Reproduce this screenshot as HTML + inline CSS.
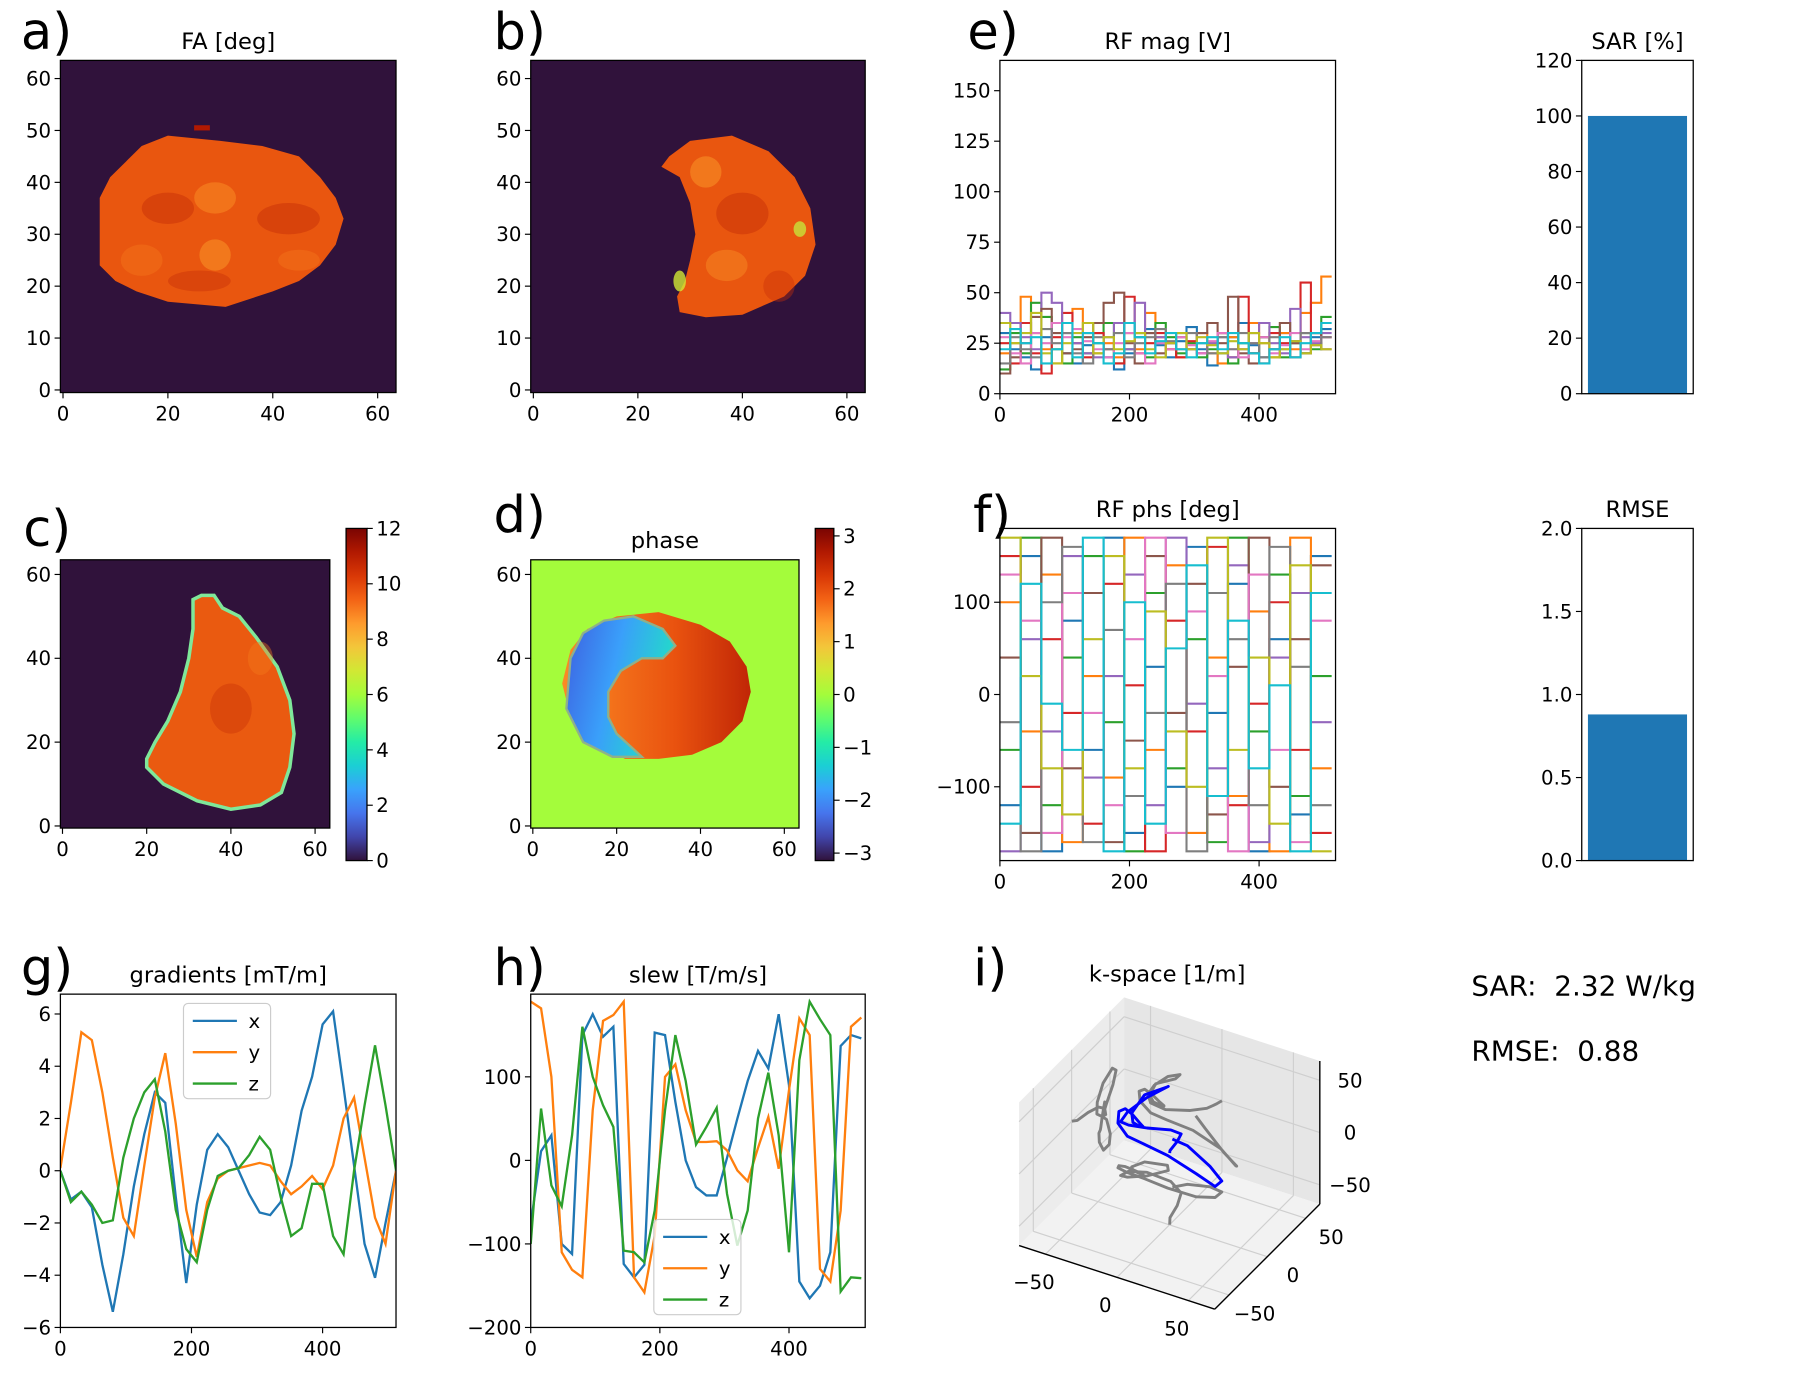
<!DOCTYPE html>
<html><head><meta charset="utf-8"><style>
html,body{margin:0;padding:0;background:#fff;}
svg{display:block;font-family:"DejaVu Sans","Liberation Sans",sans-serif;}
</style></head><body>
<svg id="fig" xmlns="http://www.w3.org/2000/svg" width="1819" height="1376" viewBox="0 0 1566.3 1184.8" preserveAspectRatio="none">
<defs>
<linearGradient id="turbo" x1="0" y1="1" x2="0" y2="0">
<stop offset="0" stop-color="#30123b"/><stop offset="0.071" stop-color="#4145ab"/><stop offset="0.143" stop-color="#4675ed"/><stop offset="0.214" stop-color="#39a2fc"/><stop offset="0.286" stop-color="#1bcfd4"/><stop offset="0.357" stop-color="#24eca6"/><stop offset="0.429" stop-color="#61fc6c"/><stop offset="0.5" stop-color="#a4fc3b"/><stop offset="0.571" stop-color="#d1e834"/><stop offset="0.643" stop-color="#f3c63a"/><stop offset="0.714" stop-color="#fe9b2d"/><stop offset="0.786" stop-color="#f36315"/><stop offset="0.857" stop-color="#d93806"/><stop offset="0.929" stop-color="#b11901"/><stop offset="1" stop-color="#7a0402"/>
</linearGradient>
<linearGradient id="phR" x1="0" y1="0" x2="1" y2="0"><stop offset="0" stop-color="#fb8a24"/><stop offset="0.6" stop-color="#e9520f"/><stop offset="1" stop-color="#c02606"/></linearGradient>
<linearGradient id="phB" x1="0" y1="0" x2="1" y2="0.3"><stop offset="0" stop-color="#3d5fe0"/><stop offset="0.5" stop-color="#3a9ffa"/><stop offset="1" stop-color="#22dcc8"/></linearGradient>
</defs>
</svg>
<script>
// ---------- data ----------
const gradT = [0,16,32,48,64,80,96,112,128,144,160,176,192,208,224,240,256,272,288,304,320,336,352,368,384,400,416,432,448,464,480,496,512];
const gradX = [0,-1.1,-0.8,-1.4,-3.6,-5.4,-3.2,-0.6,1.4,3.0,2.6,-1.0,-4.3,-1.3,0.8,1.4,0.9,0.0,-0.9,-1.6,-1.7,-1.2,0.2,2.3,3.6,5.6,6.1,3.2,0.2,-2.8,-4.1,-2.0,0];
const gradY = [0.1,2.6,5.3,5.0,3.0,0.5,-1.8,-2.5,0.2,2.8,4.5,1.8,-1.5,-3.3,-1.2,-0.3,0.0,0.1,0.2,0.3,0.2,-0.4,-0.9,-0.6,-0.2,-0.7,0.2,2.0,2.8,0.5,-1.8,-2.8,0];
const gradZ = [0,-1.2,-0.8,-1.3,-2.0,-1.9,0.5,2.0,3.0,3.5,1.5,-1.5,-3.0,-3.5,-1.5,-0.2,0,0.1,0.6,1.3,0.8,-1.0,-2.5,-2.2,-0.5,-0.5,-2.5,-3.2,0,2.5,4.8,2.5,0];
const slewX = [-76,11,30,-100,-112,150,175,148,160,-124,-140,-125,153,150,70,0,-32,-42,-42,3,50,95,131,110,175,90,-145,-165,-150,-110,137,150,146];
const slewY = [190,182,100,-110,-131,-140,60,167,174,190,-140,-158,-90,100,115,60,22,22,23,12,-12,-25,15,52,-10,84,170,150,-130,-145,-60,160,171];
const slewZ = [-100,62,-30,-55,30,160,100,66,40,-108,-110,-122,-60,60,150,95,19,40,63,-40,-102,-60,50,105,30,-110,120,190,169,150,-157,-140,-141];
const rfMag = [
 [30,22,18,12,28,35,20,15,24,30,18,12,20,28,32,24,18,26,33,22,14,20,28,35,24,18,22,30,26,20,28,32],
 [20,25,48,30,22,15,35,42,30,20,25,18,30,22,40,28,22,18,25,30,20,15,28,22,35,25,18,30,22,40,45,58],
 [12,30,20,45,38,22,15,28,20,25,35,15,22,30,18,35,28,20,25,18,22,30,15,25,20,28,33,18,25,30,22,38],
 [25,15,35,20,10,28,40,25,18,30,22,15,48,20,25,30,22,18,26,20,25,30,18,48,20,15,30,25,18,55,30,28],
 [40,35,28,22,50,45,30,25,20,18,28,35,22,45,30,28,25,30,22,20,25,28,18,22,30,35,25,20,42,28,25,30],
 [10,18,25,38,42,30,20,22,28,35,45,50,25,15,30,20,25,28,22,30,35,25,48,20,15,28,22,35,25,20,30,22],
 [28,20,15,30,25,35,28,32,26,22,18,25,30,20,15,25,22,28,24,20,26,30,22,18,25,28,20,24,30,22,26,28],
 [15,28,22,18,32,25,30,20,15,28,22,30,18,25,28,32,26,22,30,25,20,28,22,30,25,18,28,22,26,30,24,28],
 [35,25,30,40,20,15,25,30,35,20,28,22,26,30,22,18,25,30,22,28,24,20,26,22,30,25,18,22,26,20,24,22],
 [22,32,25,28,15,22,35,18,30,25,15,20,35,28,20,26,30,22,18,25,28,22,30,25,20,15,22,28,18,25,30,35]];
const rfPhs = [
 [-120,150,-170,80,-60,170,-150,30,-100,160,-20,120,-170,60,-130,150],
 [100,-40,130,-160,20,-90,170,-60,140,-150,40,-110,90,-170,170,-80],
 [-60,170,-120,40,150,-30,-170,110,-80,60,-160,170,-40,130,-110,20],
 [150,-100,60,-20,-140,120,10,-170,80,-40,160,-120,-10,100,-60,-150],
 [-170,60,-40,150,-90,20,130,-120,170,-10,-80,140,-160,40,110,-30],
 [40,-150,170,-80,110,-160,-50,150,-20,120,-130,30,170,-100,60,140],
 [130,80,-150,110,-20,-120,60,170,-150,90,20,-170,130,-60,-160,80],
 [-30,-170,100,160,-160,70,-110,-20,120,-170,110,60,-120,160,30,-120],
 [170,20,-80,-130,60,150,-80,90,-40,-100,170,-60,40,-140,140,-170],
 [-140,120,-10,-60,170,-170,100,-140,50,140,-110,80,-80,10,-170,110]];
const sarValue = [100];
const rmseValue = [0.88];
const faMask = [[7,24],[7,37],[9,41],[12,44],[15,47],[20,49],[30,48],[38,47],[45,45],[49,41],[52,37],[53.5,33],[52,28],[49,24],[45,21],[40,19],[31,16],[20,17],[14,19],[10,21]];
const bMask = [[26,45],[30,48],[38,49],[45,46],[50,41],[53,35],[54,28],[52,22],[48,18],[40,14.5],[33,14],[28,15],[27.5,18],[29,21],[30,25],[31,30],[30,36],[28,41],[24.5,43]];
const cMask = [[31,54],[33,55],[36,55],[38,52],[42,50],[46,45],[51,38],[54,30],[55,22],[54,14],[52,8],[47,5],[40,4],[32,6],[24,10],[20,14],[20,16],[22,20],[25,25],[28,32],[30,40],[31,47]];
const dMask = [[7,34],[9,42],[13,47],[20,50],[30,51],[40,48],[47,44],[51,38],[52,32],[50,25],[45,20],[38,17],[30,16],[22,16],[14,20],[9,26]];
const dSwirl = [[9,40],[12,46],[17,49],[24,50],[31,47],[34,43],[31,40],[26,40],[21,37],[18,32],[18,26],[20,22],[26,16.5],[19,16.5],[12,20],[8,28]];

const tab = ['#1f77b4','#ff7f0e','#2ca02c','#d62728','#9467bd','#8c564b','#e377c2','#7f7f7f','#bcbd22','#17becf'];
const NS='http://www.w3.org/2000/svg';
const svg=document.getElementById('fig');
function mk(parent,tag,attrs,name,inter){
  const el=document.createElementNS(NS,tag);
  for(const k in attrs) el.setAttribute(k,attrs[k]);
  
  
  parent.appendChild(el); return el;
}
function txt(parent,x,y,s,size,anchor,name){
  const t=mk(parent,'text',{x:x,y:y,'font-size':size,'text-anchor':anchor||'middle',fill:'#000'},name);
  t.textContent=s; return t;
}
let clipId=0;
function axes(c){
  const g=mk(svg,'g',{},c.name);
  const sx=v=>c.x0+(v-c.xlim[0])/(c.xlim[1]-c.xlim[0])*(c.x1-c.x0);
  const sy=v=>c.y0-(v-c.ylim[0])/(c.ylim[1]-c.ylim[0])*(c.y0-c.y1);
  const id='clip'+(clipId++);
  const cp=mk(svg.querySelector('defs'),'clipPath',{id:id},c.name+'-clip');
  mk(cp,'rect',{x:c.x0,y:c.y1,width:c.x1-c.x0,height:c.y0-c.y1},'clip-rect');
  const plot=mk(g,'g',{'clip-path':'url(#'+id+')'},c.name+'-plot-area');
  (c.xticks||[]).forEach((v,i)=>{const x=sx(v);
    mk(g,'line',{x1:x,x2:x,y1:c.y0,y2:c.y0+5,stroke:'#000','stroke-width':1},'x-tick');
    txt(g,x,c.y0+24,c.xlab?c.xlab[i]:String(v).replace('-','\u2212'),17,'middle','x-tick-label');});
  (c.yticks||[]).forEach((v,i)=>{const y=sy(v);
    mk(g,'line',{x1:c.x0-5,x2:c.x0,y1:y,y2:y,stroke:'#000','stroke-width':1},'y-tick');
    txt(g,c.x0-8,y+6,c.ylab?c.ylab[i]:String(v).replace('-','\u2212'),17,'end','y-tick-label');});
  if(c.title) txt(g,(c.x0+c.x1)/2,c.y1-10,c.title,19.5,'middle','axes-title');
  return {g,plot,sx,sy,frame:()=>mk(g,'rect',{x:c.x0,y:c.y1,width:c.x1-c.x0,height:c.y0-c.y1,fill:'none',stroke:'#000','stroke-width':1.1},'axes-frame')};
}
function poly(ax,pts,attrs,name){
  return mk(ax.plot,'polygon',Object.assign({points:pts.map(p=>ax.sx(p[0])+','+ax.sy(p[1])).join(' ')},attrs),name);
}
function letter(x,y,s){txt(svg,x,y,s,44,'start','panel-label-'+s[0]);}
const imgT=[0,20,40,60];

// a) FA
let A=axes({name:'fa-map-axes',x0:52,x1:341,y0:338,y1:52,xlim:[-0.5,63.5],ylim:[-0.5,63.5],xticks:imgT,yticks:[0,10,20,30,40,50,60],title:'FA [deg]'});
mk(A.plot,'rect',{x:52,y:52,width:289,height:286,fill:'#30123b'},'background');
poly(A,faMask,{fill:'#e9560f'},'fa-mask');
poly(A,[[25,50],[28,50],[28,51],[25,51]],{fill:'#b11901'},'fa-spot');
[[20,35,5,3,'#c83008',0.5],[43,33,6,3,'#c83008',0.5],[26,21,6,2,'#c83008',0.45],[29,37,4,3,'#fb8f26',0.5],[29,26,3,3,'#fb9a2a',0.5],[15,25,4,3,'#f47a1c',0.4],[45,25,4,2,'#f47a1c',0.4]].forEach(b=>{
  mk(A.plot,'ellipse',{cx:A.sx(b[0]),cy:A.sy(b[1]),rx:b[2]*4.5,ry:b[3]*4.5,fill:b[4],opacity:b[5]},'fa-texture');});
A.frame(); letter(18,42,'a)');

// b)
let B=axes({name:'fa-map-b-axes',x0:457,x1:745,y0:338,y1:52,xlim:[-0.5,63.5],ylim:[-0.5,63.5],xticks:imgT,yticks:[0,10,20,30,40,50,60]});
mk(B.plot,'rect',{x:457,y:52,width:288,height:286,fill:'#30123b'},'background');
poly(B,bMask,{fill:'#e9560f'},'fa-mask');
[[40,34,5,4,'#c83008',0.5],[37,24,4,3,'#f78a24',0.5],[47,20,3,3,'#c83008',0.4],[51,31,1.2,1.5,'#c7e43a',0.8],[28,21,1.2,2,'#d1e834',0.8],[33,42,3,3,'#fb9a2a',0.5]].forEach(b=>{
  mk(B.plot,'ellipse',{cx:B.sx(b[0]),cy:B.sy(b[1]),rx:b[2]*4.5,ry:b[3]*4.5,fill:b[4],opacity:b[5]},'fa-texture');});
B.frame(); letter(425,42,'b)');

// c)
let C=axes({name:'magnitude-map-axes',x0:52,x1:284,y0:713,y1:482,xlim:[-0.5,63.5],ylim:[-0.5,63.5],xticks:imgT,yticks:[0,20,40,60]});
mk(C.plot,'rect',{x:52,y:482,width:232,height:231,fill:'#30123b'},'background');
poly(C,cMask,{fill:'#ea5a10',stroke:'#7fe89a','stroke-width':3},'mag-mask');
[[40,28,5,6,'#c83008',0.4],[47,40,3,4,'#f47a1c',0.4]].forEach(b=>{
  mk(C.plot,'ellipse',{cx:C.sx(b[0]),cy:C.sy(b[1]),rx:b[2]*3.6,ry:b[3]*3.6,fill:b[4],opacity:b[5]},'mag-texture');});
C.frame(); letter(20,470,'c)');
let CB=axes({name:'colorbar-c',x0:298,x1:316,y0:741,y1:455,xlim:[0,1],ylim:[0,12]});
mk(CB.plot,'rect',{x:298,y:455,width:18,height:286,fill:'url(#turbo)'},'colorbar-gradient');
CB.frame();
[0,2,4,6,8,10,12].forEach(v=>{const y=CB.sy(v);mk(CB.g,'line',{x1:316,x2:321,y1:y,y2:y,stroke:'#000'},'cbar-tick');txt(CB.g,324,y+6,String(v),17,'start','cbar-tick-label');});

// d)
let D=axes({name:'phase-map-axes',x0:457,x1:688,y0:713,y1:482,xlim:[-0.5,63.5],ylim:[-0.5,63.5],xticks:imgT,yticks:[0,20,40,60],title:'phase'});
mk(D.plot,'rect',{x:457,y:482,width:231,height:231,fill:'#a4fc3b'},'background');
poly(D,dMask,{fill:'url(#phR)'},'phase-region');
poly(D,dSwirl,{fill:'url(#phB)',stroke:'#8fb08a','stroke-width':2},'phase-swirl');
D.frame(); letter(425,458,'d)');
let DB=axes({name:'colorbar-d',x0:702,x1:718,y0:741,y1:455,xlim:[0,1],ylim:[-Math.PI,Math.PI]});
mk(DB.plot,'rect',{x:702,y:455,width:16,height:286,fill:'url(#turbo)'},'colorbar-gradient');
DB.frame();
[-3,-2,-1,0,1,2,3].forEach(v=>{const y=DB.sy(v);mk(DB.g,'line',{x1:718,x2:723,y1:y,y2:y,stroke:'#000'},'cbar-tick');txt(DB.g,726,y+6,String(v).replace('-','\u2212'),17,'start','cbar-tick-label');});

// e) RF mag
function steps(ax,arr,color,name){
  const n=arr.length,w=512/n;let d='';
  arr.forEach((v,i)=>{d+=(i?'L':'M')+ax.sx(i*w)+','+ax.sy(v)+'L'+ax.sx((i+1)*w)+','+ax.sy(v);});
  mk(ax.plot,'path',{d:d,fill:'none',stroke:color,'stroke-width':1.8},name);
}
let E=axes({name:'rf-mag-axes',x0:861,x1:1150,y0:339,y1:52,xlim:[0,518],ylim:[0,165],xticks:[0,200,400],yticks:[0,25,50,75,100,125,150],title:'RF mag [V]'});
rfMag.forEach((s,i)=>steps(E,s,tab[i],'rf-mag-channel-'+i));
E.frame(); letter(833,42,'e)');

// SAR bar
let S=axes({name:'sar-bar-axes',x0:1362,x1:1458,y0:339,y1:52,xlim:[-0.45,0.45],ylim:[0,120],yticks:[0,20,40,60,80,100,120],title:'SAR [%]'});
sarValue.forEach(v=>mk(S.plot,'rect',{x:S.sx(-0.4),y:S.sy(v),width:S.sx(0.4)-S.sx(-0.4),height:S.sy(0)-S.sy(v),fill:'#1f77b4'},'sar-bar'));
S.frame();

// f) RF phase
let F=axes({name:'rf-phase-axes',x0:861,x1:1150,y0:741,y1:455,xlim:[0,518],ylim:[-180,180],xticks:[0,200,400],yticks:[-100,0,100],title:'RF phs [deg]'});
rfPhs.forEach((s,i)=>steps(F,s,tab[i],'rf-phase-channel-'+i));
F.frame(); letter(838,458,'f)');

// RMSE
let R=axes({name:'rmse-bar-axes',x0:1362,x1:1458,y0:741,y1:455,xlim:[-0.45,0.45],ylim:[0,2],yticks:[0,0.5,1,1.5,2],ylab:['0.0','0.5','1.0','1.5','2.0'],title:'RMSE'});
rmseValue.forEach(v=>mk(R.plot,'rect',{x:R.sx(-0.4),y:R.sy(v),width:R.sx(0.4)-R.sx(-0.4),height:R.sy(0)-R.sy(v),fill:'#1f77b4'},'rmse-bar'));
R.frame();

// g, h line plots
function line(ax,ts,vs,color,name){
  mk(ax.plot,'polyline',{points:ts.map((t,i)=>ax.sx(t)+','+ax.sy(vs[i])).join(' '),fill:'none',stroke:color,'stroke-width':2},name);
}
function legend(ax,x,y,name){
  const g=mk(ax.g,'g',{},name);
  mk(g,'rect',{x:x,y:y,width:75,height:82,rx:4,fill:'#fff',stroke:'#ccc','fill-opacity':0.8},'legend-box');
  ['x','y','z'].forEach((l,i)=>{const yy=y+15+i*27;
    mk(g,'line',{x1:x+8,x2:x+46,y1:yy,y2:yy,stroke:tab[i],'stroke-width':2},'legend-line-'+l);
    txt(g,x+56,yy+6,l,17,'start','legend-label-'+l);});
}
let G=axes({name:'gradients-axes',x0:52,x1:341,y0:1143,y1:856,xlim:[0,512],ylim:[-6,6.76],xticks:[0,200,400],yticks:[-6,-4,-2,0,2,4,6],title:'gradients [mT/m]'});
line(G,gradT,gradX,tab[0],'gradient-x');line(G,gradT,gradY,tab[1],'gradient-y');line(G,gradT,gradZ,tab[2],'gradient-z');
legend(G,158,864,'gradients-legend'); G.frame(); letter(18,848,'g)');
let H=axes({name:'slew-axes',x0:457,x1:745,y0:1143,y1:856,xlim:[0,518],ylim:[-200,199],xticks:[0,200,400],yticks:[-200,-100,0,100],title:'slew [T/m/s]'});
line(H,gradT,slewX,tab[0],'slew-x');line(H,gradT,slewY,tab[1],'slew-y');line(H,gradT,slewZ,tab[2],'slew-z');
legend(H,563,1050,'slew-legend'); H.frame(); letter(425,848,'h)');

// i) k-space 3D
const I=mk(svg,'g',{},'kspace-3d-axes');
txt(I,1005,845,'k-space [1/m]',19.5,'middle','axes-title'); letter(838,848,'i)');
const L=68.5, O=[1007,993], ex=[1.23,0.40], ey=[0.66,-0.66], ez=[0,-0.90];
const P=(x,y,z)=>[O[0]+x*ex[0]+y*ey[0]+z*ez[0], O[1]+x*ex[1]+y*ey[1]+z*ez[1]];
function pp(pts,attrs,name,parent){return mk(parent||I,'polygon',Object.assign({points:pts.map(p=>P(...p).join(',')).join(' ')},attrs),name);}
pp([[-L,-L,-L],[-L,L,-L],[-L,L,L],[-L,-L,L]],{fill:'#ececec'},'left-pane');
pp([[-L,L,-L],[L,L,-L],[L,L,L],[-L,L,L]],{fill:'#e6e6e6'},'back-pane');
pp([[-L,-L,-L],[L,-L,-L],[L,L,-L],[-L,L,-L]],{fill:'#f2f2f2'},'floor-pane');
const tk=[-50,0,50];
function seg(a,b,st,w,name){const p=P(...a),q=P(...b);mk(I,'line',{x1:p[0],y1:p[1],x2:q[0],y2:q[1],stroke:st,'stroke-width':w},name);}
tk.forEach(v=>{
  seg([v,-L,-L],[v,L,-L],'#cfcfcf',1,'grid');seg([v,L,-L],[v,L,L],'#cfcfcf',1,'grid');
  seg([-L,v,-L],[L,v,-L],'#cfcfcf',1,'grid');seg([-L,v,-L],[-L,v,L],'#cfcfcf',1,'grid');
  seg([-L,-L,v],[-L,L,v],'#cfcfcf',1,'grid');seg([-L,L,v],[L,L,v],'#cfcfcf',1,'grid');});
seg([-L,-L,-L],[L,-L,-L],'#000',1.2,'x-axis-line');seg([L,-L,-L],[L,L,-L],'#000',1.2,'y-axis-line');seg([L,L,-L],[L,L,L],'#000',1.2,'z-axis-line');
tk.forEach(v=>{
  let p=P(v,-L,-L);txt(I,p[0]-10,p[1]+30,String(v).replace('-','\u2212'),17,'middle','x-tick-label');
  p=P(L,v,-L);txt(I,p[0]+22,p[1]+22,String(v).replace('-','\u2212'),17,'middle','y-tick-label');
  p=P(L,L,v);txt(I,p[0]+26,p[1]+6,String(v).replace('-','\u2212'),17,'middle','z-tick-label');});
// k trajectory from gradient integral, each axis normalised to the plotted range
function cum(a){let s=0;return a.map(v=>(s+=v));}
function norm(a){const m=Math.max(...a.map(Math.abs));return a.map(v=>v*58/m);}
let kx=norm(cum(gradX)),ky=norm(cum(gradY)),kz=norm(cum(gradZ));
function path3(fx,fy,fz,st,w,name){mk(I,'polyline',{points:kx.map((_,i)=>P(fx(i),fy(i),fz(i)).join(',')).join(' '),fill:'none',stroke:st,'stroke-width':w,'stroke-linejoin':'round'},name);}
path3(i=>-L,i=>ky[i],i=>kz[i],'#808080',2.5,'kspace-proj-yz');
path3(i=>kx[i],i=>L,i=>kz[i],'#808080',2.5,'kspace-proj-xz');
path3(i=>kx[i],i=>ky[i],i=>-L,'#808080',2.5,'kspace-proj-xy');
path3(i=>kx[i],i=>ky[i],i=>kz[i],'#0000ff',2.5,'kspace-trajectory');

txt(svg,1267,857,'SAR:\u00a0\u00a02.32 W/kg',24,'start','sar-value-text');
txt(svg,1267,913,'RMSE:\u00a0\u00a00.88',24,'start','rmse-value-text');
</script>
</body></html>
